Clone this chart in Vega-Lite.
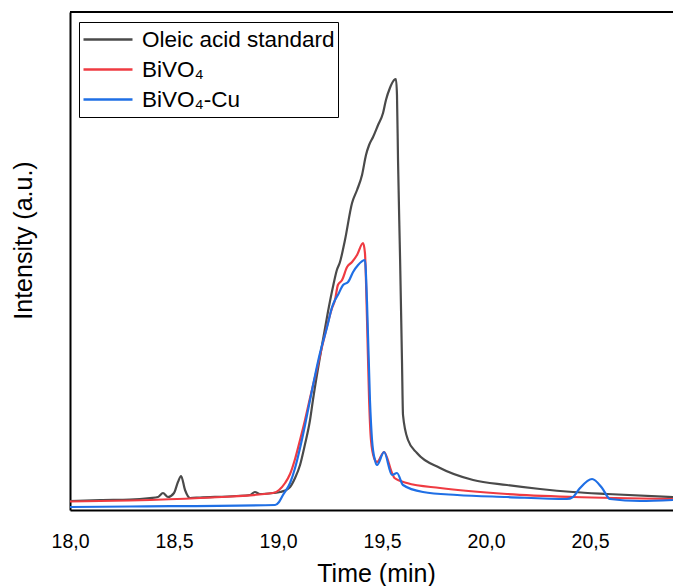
{
  "$schema": "https://vega.github.io/schema/vega-lite/v6.json",
  "width": 603,
  "height": 498,
  "autosize": {"type": "none"},
  "padding": {"left": 70, "top": 12, "right": 0, "bottom": 76},
  "background": "white",
  "config": {"view": {"stroke": null}, "font": "Liberation Sans"},
  "datasets": {
    "curves": [
      {"series": "Oleic acid standard", "time": 18.000, "intensity": 9},
      {"series": "Oleic acid standard", "time": 18.144, "intensity": 10},
      {"series": "Oleic acid standard", "time": 18.288, "intensity": 10.5},
      {"series": "Oleic acid standard", "time": 18.385, "intensity": 12},
      {"series": "Oleic acid standard", "time": 18.423, "intensity": 13},
      {"series": "Oleic acid standard", "time": 18.447, "intensity": 17},
      {"series": "Oleic acid standard", "time": 18.471, "intensity": 13},
      {"series": "Oleic acid standard", "time": 18.500, "intensity": 17},
      {"series": "Oleic acid standard", "time": 18.519, "intensity": 28},
      {"series": "Oleic acid standard", "time": 18.534, "intensity": 34},
      {"series": "Oleic acid standard", "time": 18.553, "intensity": 20},
      {"series": "Oleic acid standard", "time": 18.577, "intensity": 12},
      {"series": "Oleic acid standard", "time": 18.625, "intensity": 12.5},
      {"series": "Oleic acid standard", "time": 18.800, "intensity": 14},
      {"series": "Oleic acid standard", "time": 18.865, "intensity": 15},
      {"series": "Oleic acid standard", "time": 18.889, "intensity": 18},
      {"series": "Oleic acid standard", "time": 18.913, "intensity": 16},
      {"series": "Oleic acid standard", "time": 18.976, "intensity": 17},
      {"series": "Oleic acid standard", "time": 19.010, "intensity": 18},
      {"series": "Oleic acid standard", "time": 19.034, "intensity": 19.5},
      {"series": "Oleic acid standard", "time": 19.058, "intensity": 23},
      {"series": "Oleic acid standard", "time": 19.082, "intensity": 32},
      {"series": "Oleic acid standard", "time": 19.106, "intensity": 45},
      {"series": "Oleic acid standard", "time": 19.130, "intensity": 66},
      {"series": "Oleic acid standard", "time": 19.154, "intensity": 90},
      {"series": "Oleic acid standard", "time": 19.168, "intensity": 110},
      {"series": "Oleic acid standard", "time": 19.216, "intensity": 170},
      {"series": "Oleic acid standard", "time": 19.240, "intensity": 198},
      {"series": "Oleic acid standard", "time": 19.264, "intensity": 223},
      {"series": "Oleic acid standard", "time": 19.283, "intensity": 240},
      {"series": "Oleic acid standard", "time": 19.298, "intensity": 248},
      {"series": "Oleic acid standard", "time": 19.322, "intensity": 270},
      {"series": "Oleic acid standard", "time": 19.356, "intensity": 307},
      {"series": "Oleic acid standard", "time": 19.380, "intensity": 320},
      {"series": "Oleic acid standard", "time": 19.404, "intensity": 335},
      {"series": "Oleic acid standard", "time": 19.423, "intensity": 355},
      {"series": "Oleic acid standard", "time": 19.438, "intensity": 365},
      {"series": "Oleic acid standard", "time": 19.457, "intensity": 373},
      {"series": "Oleic acid standard", "time": 19.481, "intensity": 385},
      {"series": "Oleic acid standard", "time": 19.505, "intensity": 397},
      {"series": "Oleic acid standard", "time": 19.519, "intensity": 410},
      {"series": "Oleic acid standard", "time": 19.538, "intensity": 422},
      {"series": "Oleic acid standard", "time": 19.558, "intensity": 430},
      {"series": "Oleic acid standard", "time": 19.567, "intensity": 431},
      {"series": "Oleic acid standard", "time": 19.572, "intensity": 415},
      {"series": "Oleic acid standard", "time": 19.577, "intensity": 350},
      {"series": "Oleic acid standard", "time": 19.587, "intensity": 250},
      {"series": "Oleic acid standard", "time": 19.596, "intensity": 150},
      {"series": "Oleic acid standard", "time": 19.601, "intensity": 95},
      {"series": "Oleic acid standard", "time": 19.625, "intensity": 70},
      {"series": "Oleic acid standard", "time": 19.668, "intensity": 57},
      {"series": "Oleic acid standard", "time": 19.779, "intensity": 42},
      {"series": "Oleic acid standard", "time": 19.938, "intensity": 30},
      {"series": "Oleic acid standard", "time": 20.101, "intensity": 25},
      {"series": "Oleic acid standard", "time": 20.260, "intensity": 21},
      {"series": "Oleic acid standard", "time": 20.418, "intensity": 18},
      {"series": "Oleic acid standard", "time": 20.583, "intensity": 16},
      {"series": "Oleic acid standard", "time": 20.899, "intensity": 13},

      {"series": "BiVO₄", "time": 18.000, "intensity": 8.5},
      {"series": "BiVO₄", "time": 18.288, "intensity": 9.5},
      {"series": "BiVO₄", "time": 18.625, "intensity": 12},
      {"series": "BiVO₄", "time": 18.976, "intensity": 17},
      {"series": "BiVO₄", "time": 19.005, "intensity": 20},
      {"series": "BiVO₄", "time": 19.034, "intensity": 27},
      {"series": "BiVO₄", "time": 19.058, "intensity": 36},
      {"series": "BiVO₄", "time": 19.082, "intensity": 51},
      {"series": "BiVO₄", "time": 19.106, "intensity": 70},
      {"series": "BiVO₄", "time": 19.130, "intensity": 90},
      {"series": "BiVO₄", "time": 19.154, "intensity": 112},
      {"series": "BiVO₄", "time": 19.178, "intensity": 133},
      {"series": "BiVO₄", "time": 19.216, "intensity": 167},
      {"series": "BiVO₄", "time": 19.260, "intensity": 202},
      {"series": "BiVO₄", "time": 19.274, "intensity": 210},
      {"series": "BiVO₄", "time": 19.288, "intensity": 225},
      {"series": "BiVO₄", "time": 19.308, "intensity": 230},
      {"series": "BiVO₄", "time": 19.332, "intensity": 243},
      {"series": "BiVO₄", "time": 19.356, "intensity": 248},
      {"series": "BiVO₄", "time": 19.380, "intensity": 255},
      {"series": "BiVO₄", "time": 19.409, "intensity": 267},
      {"series": "BiVO₄", "time": 19.418, "intensity": 257},
      {"series": "BiVO₄", "time": 19.428, "intensity": 190},
      {"series": "BiVO₄", "time": 19.438, "intensity": 110},
      {"series": "BiVO₄", "time": 19.447, "intensity": 70},
      {"series": "BiVO₄", "time": 19.462, "intensity": 52},
      {"series": "BiVO₄", "time": 19.476, "intensity": 48},
      {"series": "BiVO₄", "time": 19.510, "intensity": 58},
      {"series": "BiVO₄", "time": 19.548, "intensity": 37},
      {"series": "BiVO₄", "time": 19.560, "intensity": 32},
      {"series": "BiVO₄", "time": 19.620, "intensity": 27},
      {"series": "BiVO₄", "time": 19.779, "intensity": 22},
      {"series": "BiVO₄", "time": 20.101, "intensity": 16},
      {"series": "BiVO₄", "time": 20.418, "intensity": 13},
      {"series": "BiVO₄", "time": 20.899, "intensity": 11},

      {"series": "BiVO₄-Cu", "time": 18.000, "intensity": 3},
      {"series": "BiVO₄-Cu", "time": 18.288, "intensity": 3.5},
      {"series": "BiVO₄-Cu", "time": 18.986, "intensity": 5},
      {"series": "BiVO₄-Cu", "time": 19.005, "intensity": 8},
      {"series": "BiVO₄-Cu", "time": 19.024, "intensity": 15},
      {"series": "BiVO₄-Cu", "time": 19.058, "intensity": 27},
      {"series": "BiVO₄-Cu", "time": 19.082, "intensity": 42},
      {"series": "BiVO₄-Cu", "time": 19.106, "intensity": 62},
      {"series": "BiVO₄-Cu", "time": 19.130, "intensity": 85},
      {"series": "BiVO₄-Cu", "time": 19.154, "intensity": 110},
      {"series": "BiVO₄-Cu", "time": 19.202, "intensity": 157},
      {"series": "BiVO₄-Cu", "time": 19.236, "intensity": 183},
      {"series": "BiVO₄-Cu", "time": 19.260, "intensity": 203},
      {"series": "BiVO₄-Cu", "time": 19.274, "intensity": 210},
      {"series": "BiVO₄-Cu", "time": 19.288, "intensity": 215},
      {"series": "BiVO₄-Cu", "time": 19.313, "intensity": 225},
      {"series": "BiVO₄-Cu", "time": 19.337, "intensity": 228},
      {"series": "BiVO₄-Cu", "time": 19.361, "intensity": 238},
      {"series": "BiVO₄-Cu", "time": 19.385, "intensity": 245},
      {"series": "BiVO₄-Cu", "time": 19.418, "intensity": 250},
      {"series": "BiVO₄-Cu", "time": 19.428, "intensity": 207},
      {"series": "BiVO₄-Cu", "time": 19.442, "intensity": 110},
      {"series": "BiVO₄-Cu", "time": 19.452, "intensity": 70},
      {"series": "BiVO₄-Cu", "time": 19.466, "intensity": 50},
      {"series": "BiVO₄-Cu", "time": 19.476, "intensity": 45},
      {"series": "BiVO₄-Cu", "time": 19.510, "intensity": 58},
      {"series": "BiVO₄-Cu", "time": 19.548, "intensity": 35},
      {"series": "BiVO₄-Cu", "time": 19.572, "intensity": 37},
      {"series": "BiVO₄-Cu", "time": 19.601, "intensity": 25},
      {"series": "BiVO₄-Cu", "time": 19.697, "intensity": 18},
      {"series": "BiVO₄-Cu", "time": 19.861, "intensity": 15},
      {"series": "BiVO₄-Cu", "time": 20.101, "intensity": 13},
      {"series": "BiVO₄-Cu", "time": 20.389, "intensity": 11},
      {"series": "BiVO₄-Cu", "time": 20.418, "intensity": 13},
      {"series": "BiVO₄-Cu", "time": 20.452, "intensity": 22},
      {"series": "BiVO₄-Cu", "time": 20.510, "intensity": 31},
      {"series": "BiVO₄-Cu", "time": 20.558, "intensity": 22},
      {"series": "BiVO₄-Cu", "time": 20.596, "intensity": 11},
      {"series": "BiVO₄-Cu", "time": 20.740, "intensity": 9},
      {"series": "BiVO₄-Cu", "time": 20.899, "intensity": 10}
    ],
    "frame": [{"top": 498}]
  },
  "layer": [
    {
      "data": {"name": "curves"},
      "mark": {"type": "line", "strokeWidth": 2.2, "interpolate": "monotone", "clip": true},
      "encoding": {
        "x": {
          "field": "time", "type": "quantitative",
          "scale": {"domain": [18, 20.899], "nice": false, "zero": false},
          "axis": {
            "values": [18, 18.5, 19, 19.5, 20, 20.5],
            "labelExpr": "replace(format(datum.value, '.1f'), '.', ',')",
            "grid": false, "ticks": false, "tickSize": 0,
            "domain": true, "domainColor": "black", "domainWidth": 2,
            "labelFont": "Liberation Sans", "labelFontSize": 19.5, "labelColor": "black",
            "labelPadding": 37, "labelBaseline": "alphabetic", "labelFlush": false, "labelOverlap": false,
            "title": "Time (min)", "titleFont": "Liberation Sans", "titleFontSize": 25, "titleFontWeight": "normal",
            "titleColor": "black", "titleX": 306, "titleY": 71, "titleBaseline": "alphabetic", "titleAlign": "center"
          }
        },
        "y": {
          "field": "intensity", "type": "quantitative",
          "scale": {"domain": [0, 498], "nice": false, "zero": false},
          "axis": {
            "ticks": false, "labels": false, "grid": false,
            "domain": true, "domainColor": "black", "domainWidth": 2,
            "title": "Intensity (a.u.)", "titleFont": "Liberation Sans", "titleFontSize": 25, "titleFontWeight": "normal",
            "titleColor": "black", "titleX": -39, "titleY": 228, "titleBaseline": "alphabetic", "titleAlign": "center", "titleAngle": 270
          }
        },
        "color": {
          "field": "series", "type": "nominal",
          "scale": {"domain": ["Oleic acid standard", "BiVO₄", "BiVO₄-Cu"], "range": ["#4a4a4a", "#ef3b42", "#1f6fe5"]},
          "legend": {
            "title": null, "orient": "none", "legendX": 9, "legendY": 10,
            "symbolType": "stroke", "symbolSize": 2401, "symbolStrokeWidth": 2.5,
            "labelFont": "Liberation Sans", "labelFontSize": 22.5, "labelColor": "black", "labelLimit": 400,
            "labelOffset": 8, "padding": 3, "strokeColor": "black", "fillColor": "white",
            "clipHeight": 29, "rowPadding": 1
          }
        }
      }
    },
    {
      "data": {"name": "frame"},
      "mark": {"type": "rule", "color": "black", "strokeWidth": 2},
      "encoding": {
        "y": {"field": "top", "type": "quantitative"}
      }
    }
  ]
}
